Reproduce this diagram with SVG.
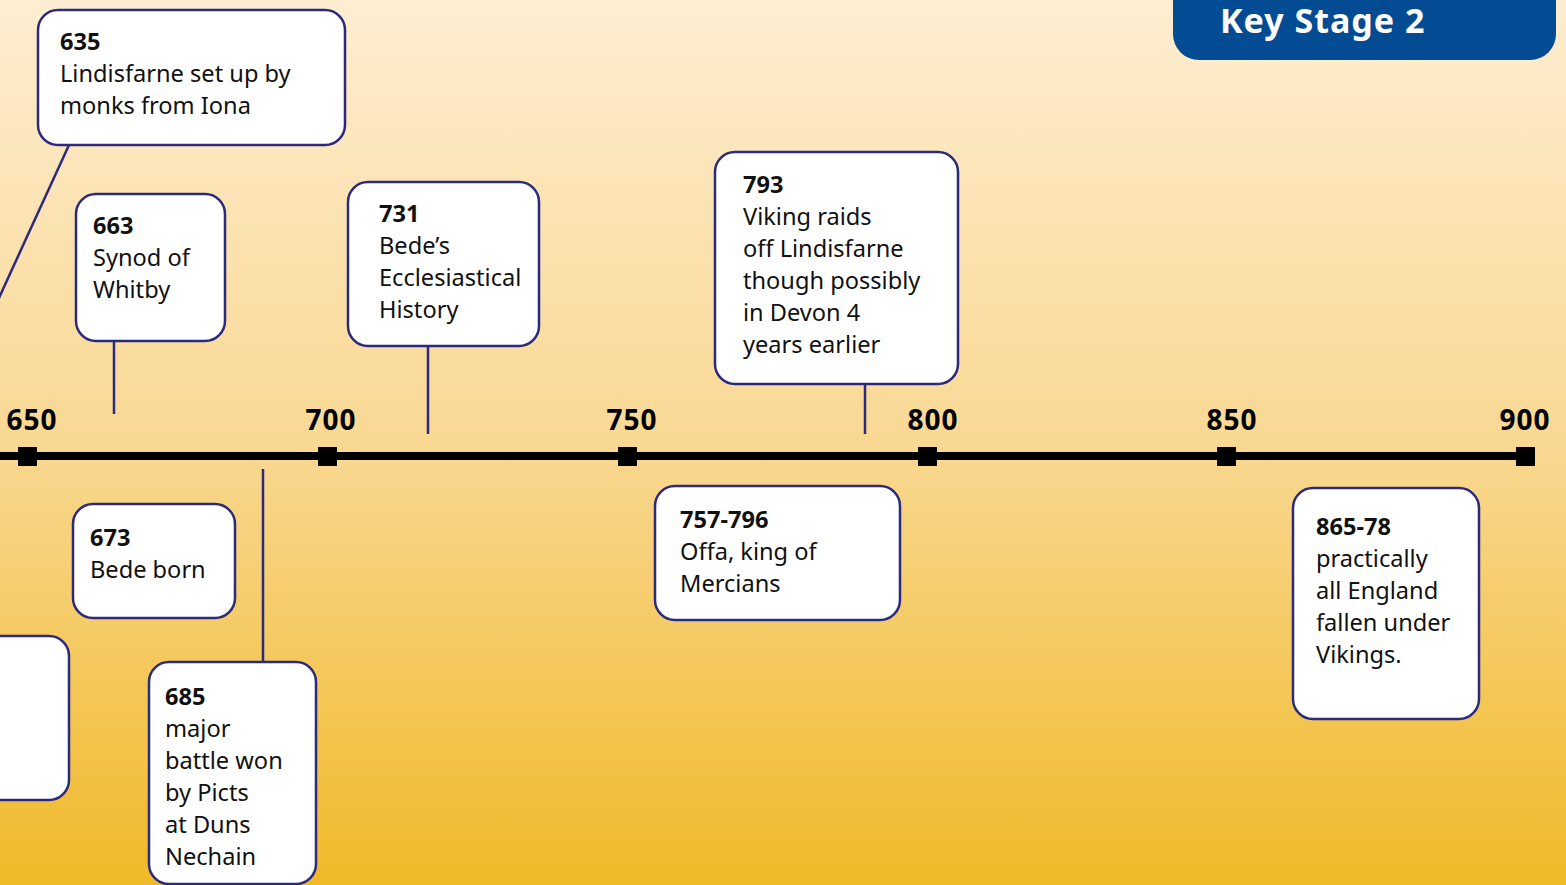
<svg xmlns="http://www.w3.org/2000/svg" width="1566" height="885" viewBox="0 0 1566 885">
<defs>
<linearGradient id="bg" x1="0" y1="0" x2="0" y2="1">
<stop offset="0" stop-color="#FEEDD1"/>
<stop offset="0.5" stop-color="#F9D893"/>
<stop offset="1" stop-color="#F0B928"/>
</linearGradient>
<style>
.box{fill:#FFFFFF;stroke:#2B2A7C;stroke-width:2.5}
.con{stroke:#2B2A7C;stroke-width:2.5;fill:none}
.t{font-family:"Noto Sans","Open Sans",sans-serif;font-size:23.6px;fill:#111}
.y{font-weight:bold}
.tick{fill:#000}
.yr{font-family:"Noto Sans","Open Sans",sans-serif;font-size:28px;font-weight:bold;fill:#000;text-anchor:middle;letter-spacing:1px}
</style>
</defs>
<rect width="1566" height="885" fill="url(#bg)"/>
<g id="header">
<rect x="1173" y="-30" width="383" height="90" rx="26" fill="#034C94"/>
<text x="1220" y="33" font-family="'Noto Sans','Open Sans',sans-serif" font-size="34" font-weight="bold" fill="#FFFFFF" letter-spacing="1">Key Stage 2</text>
</g>
<g id="timeline">
<rect x="0" y="452" width="1530" height="8" fill="#000"/>
<rect class="tick" x="18" y="447" width="19" height="19"/>
<rect class="tick" x="318" y="447" width="19" height="19"/>
<rect class="tick" x="618" y="447" width="19" height="19"/>
<rect class="tick" x="918" y="447" width="19" height="19"/>
<rect class="tick" x="1217" y="447" width="19" height="19"/>
<rect class="tick" x="1516" y="447" width="19" height="19"/>
<text class="yr" x="32" y="430">650</text>
<text class="yr" x="331" y="430">700</text>
<text class="yr" x="632" y="430">750</text>
<text class="yr" x="933" y="430">800</text>
<text class="yr" x="1232" y="430">850</text>
<text class="yr" x="1525" y="430">900</text>
</g>
<g id="connectors">
<line class="con" x1="69" y1="145" x2="-2" y2="300"/>
<line class="con" x1="114" y1="341" x2="114" y2="414"/>
<line class="con" x1="428" y1="346" x2="428" y2="434"/>
<line class="con" x1="865" y1="384" x2="865" y2="434"/>
<line class="con" x1="263" y1="469" x2="263" y2="662"/>
</g>
<g id="n635">
<rect class="box" x="38" y="10" width="307" height="135" rx="20"/>
<text class="t" x="60" y="50"><tspan class="y">635</tspan><tspan x="60" dy="32">Lindisfarne set up by</tspan><tspan x="60" dy="32">monks from Iona</tspan></text>
</g>
<g id="n663">
<rect class="box" x="76" y="194" width="149" height="147" rx="20"/>
<text class="t" x="93" y="234"><tspan class="y">663</tspan><tspan x="93" dy="32">Synod of</tspan><tspan x="93" dy="32">Whitby</tspan></text>
</g>
<g id="n731">
<rect class="box" x="348" y="182" width="191" height="164" rx="20"/>
<text class="t" x="379" y="222"><tspan class="y">731</tspan><tspan x="379" dy="32">Bede’s</tspan><tspan x="379" dy="32">Ecclesiastical</tspan><tspan x="379" dy="32">History</tspan></text>
</g>
<g id="n793">
<rect class="box" x="715" y="152" width="243" height="232" rx="20"/>
<text class="t" x="743" y="193"><tspan class="y">793</tspan><tspan x="743" dy="32">Viking raids</tspan><tspan x="743" dy="32">off Lindisfarne</tspan><tspan x="743" dy="32">though possibly</tspan><tspan x="743" dy="32">in Devon 4</tspan><tspan x="743" dy="32">years earlier</tspan></text>
</g>
<g id="n673">
<rect class="box" x="73" y="504" width="162" height="114" rx="20"/>
<text class="t" x="90" y="546"><tspan class="y">673</tspan><tspan x="90" dy="32">Bede born</tspan></text>
</g>
<g id="nleft">
<rect class="box" x="-40" y="636" width="109" height="164" rx="20"/>
</g>
<g id="n685">
<rect class="box" x="149" y="662" width="167" height="222" rx="20"/>
<text class="t" x="165" y="705"><tspan class="y">685</tspan><tspan x="165" dy="32">major</tspan><tspan x="165" dy="32">battle won</tspan><tspan x="165" dy="32">by Picts</tspan><tspan x="165" dy="32">at Duns</tspan><tspan x="165" dy="32">Nechain</tspan></text>
</g>
<g id="n757">
<rect class="box" x="655" y="486" width="245" height="134" rx="20"/>
<text class="t" x="680" y="528"><tspan class="y">757-796</tspan><tspan x="680" dy="32">Offa, king of</tspan><tspan x="680" dy="32">Mercians</tspan></text>
</g>
<g id="n865">
<rect class="box" x="1293" y="488" width="186" height="231" rx="20"/>
<text class="t" x="1316" y="535"><tspan class="y">865-78</tspan><tspan x="1316" dy="32">practically</tspan><tspan x="1316" dy="32">all England</tspan><tspan x="1316" dy="32">fallen under</tspan><tspan x="1316" dy="32">Vikings.</tspan></text>
</g>
</svg>
